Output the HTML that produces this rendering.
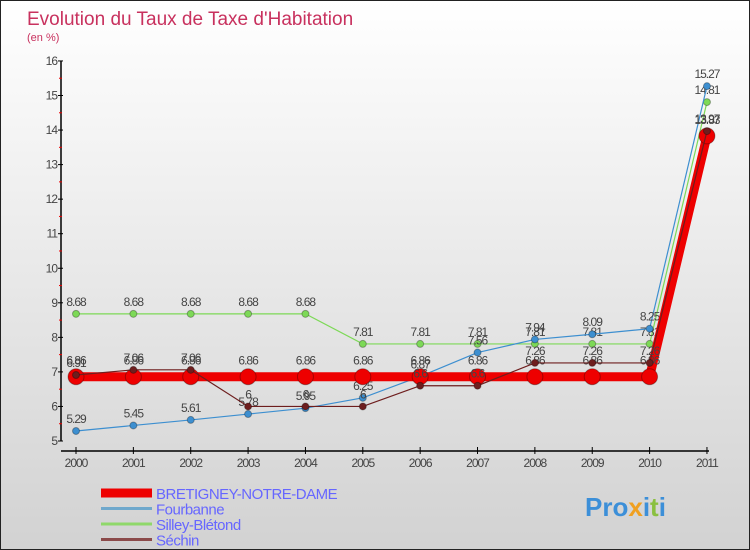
<!DOCTYPE html>
<html><head><meta charset="utf-8"><style>
body{margin:0}
#c{width:750px;height:550px;position:relative;overflow:hidden;box-sizing:border-box;border:1px solid #222;background:linear-gradient(#ffffff,#d2d2d2);font-family:"Liberation Sans",sans-serif}
</style></head><body>
<div id="c">
<svg id="s" width="750" height="550" style="position:absolute;left:0;top:0">
<text x="26" y="24" font-size="19" fill="#c8315e">Evolution du Taux de Taxe d'Habitation</text>
<text x="26" y="40" font-size="11" fill="#c8315e">(en %)</text>
</svg>
</div>
<script>
const years=["2000","2001","2002","2003","2004","2005","2006","2007","2008","2009","2010","2011"];
const bretigney=[6.86,6.86,6.86,6.86,6.86,6.86,6.86,6.86,6.86,6.86,6.86,13.83];
const fourbanne=[5.29,5.45,5.61,5.78,5.95,6.25,6.87,7.56,7.94,8.09,8.25,15.27];
const silley=[8.68,8.68,8.68,8.68,8.68,7.81,7.81,7.81,7.81,7.81,7.81,14.81];
const sechin=[6.91,7.06,7.06,6,6,6,6.6,6.6,7.26,7.26,7.26,13.97];
const yTicks=[5,6,7,8,9,10,11,12,13,14,15,16];
const seriesNames=["BRETIGNEY-NOTRE-DAME","Fourbanne","Silley-Blétond","Séchin"];
const NS="http://www.w3.org/2000/svg",svg=document.getElementById('s');
const x=i=>75+i*57.36, y=v=>440-(v-5)*34.55;
function el(t,a,p){const e=document.createElementNS(NS,t);for(const k in a)e.setAttribute(k,a[k]);(p||svg).appendChild(e);return e;}
// axes
const ax=el('g',{});


el('line',{x1:60,y1:y(16),x2:60,y2:y(5),stroke:'#000','stroke-width':1.5},ax);
el('line',{x1:60,y1:450,x2:708,y2:450,stroke:'#000','stroke-width':1.5},ax);
yTicks.forEach(v=>{
 el('line',{x1:57,x2:62,y1:y(v),y2:y(v),stroke:'#000'},ax);
 if(v<16) el('line',{x1:58,x2:61,y1:y(v+0.5),y2:y(v+0.5),stroke:'#e00'},ax);
 const t=el('text',{x:56,y:y(v)+4,'font-size':12,fill:'#444','text-anchor':'end','letter-spacing':'-1'},ax);
 
 
 t.textContent=v;
});
years.forEach((yr,i)=>{
 el('line',{x1:x(i),x2:x(i),y1:446,y2:453,stroke:'#000'},ax);
 const t=el('text',{x:x(i),y:466,'font-size':12,fill:'#444','text-anchor':'middle','letter-spacing':'-1'},ax);
 
 
 t.textContent=yr;
});
function series(data,color,w,r,name,dy){
 const g=el('g',{});
 
 
 el('polyline',{points:data.map((v,i)=>x(i)+','+y(v)).join(' '),fill:'none',stroke:color,'stroke-width':w},g);
 data.forEach((v,i)=>{
  const c=el('circle',{cx:x(i),cy:y(v),r:r,fill:color,stroke:'rgba(0,0,0,0.3)'},g);
  
  
  const t=el('text',{x:x(i),y:y(v)-dy,'font-size':12,fill:'#444','text-anchor':'middle','letter-spacing':'-1'},g);
  
  
  t.textContent=v;
 });
}
series(silley,'#7dd957',1.2,3.5,'series-silley',8);
series(fourbanne,'#3d8fd0',1.2,3.5,'series-fourbanne',8);
series(bretigney,'#ee0000',9,8,'series-bretigney',12);
series(sechin,'#6e1e1e',1.2,3.5,'series-sechin',8);
// legend
const lg=el('g',{});


const cols=['#ee0000','#6fa8cc','#8fd86a','#8b4a4a'],ws=[9,3,3,3];
seriesNames.forEach((n,i)=>{
 const yy=492+i*15.5;
 const e=el('g',{},lg);
 
 
 el('line',{x1:100,x2:151,y1:yy,y2:yy,stroke:cols[i],'stroke-width':ws[i]},e);
 const t=el('text',{x:155,y:yy+6,'font-size':15,fill:'#6666ff','letter-spacing':'-0.5'},e);
 t.textContent=n;
});
const lo=el('text',{x:584,y:515,'font-size':26,'font-weight':'bold',fill:'#3c8fd8'});


lo.innerHTML='Pro<tspan fill="#f0a020">x</tspan>i<tspan fill="#8ac040">t</tspan>i';
</script>
</body></html>
